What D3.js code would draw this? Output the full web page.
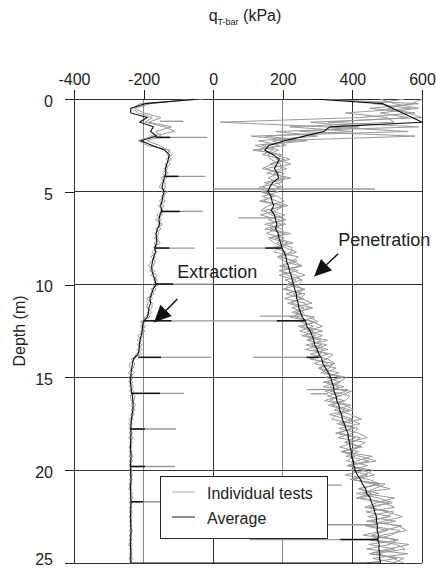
<!DOCTYPE html>
<html>
<head>
<meta charset="utf-8">
<script src="https://cdn.jsdelivr.net/npm/d3@7"></script>
<style>
    body { margin: 0; background: #fff; }
    #chart-area text { font-family: "Liberation Sans", Arial, sans-serif; fill: #222; }
</style>
</head>
<body>
<div id="chart-area"></div>
<script>

// depth of each reading (m)
var depths = [0, 0.25, 0.5, 0.75, 1, 1.25, 1.5, 1.75, 2, 2.25, 2.5, 2.75, 3, 3.25, 3.5, 3.75, 4, 4.25, 4.5, 4.75,
    5, 5.25, 5.5, 5.75, 6, 6.25, 6.5, 6.75, 7, 7.25, 7.5, 7.75, 8, 8.25, 8.5, 8.75, 9, 9.25, 9.5, 9.75,
    10, 10.25, 10.5, 10.75, 11, 11.25, 11.5, 11.75, 12, 12.25, 12.5, 12.75, 13, 13.25, 13.5, 13.75, 14, 14.25, 14.5, 14.75,
    15, 15.25, 15.5, 15.75, 16, 16.25, 16.5, 16.75, 17, 17.25, 17.5, 17.75, 18, 18.25, 18.5, 18.75, 19, 19.25, 19.5, 19.75,
    20, 20.25, 20.5, 20.75, 21, 21.25, 21.5, 21.75, 22, 22.25, 22.5, 22.75, 23, 23.25, 23.5, 23.75, 24, 24.25, 24.5, 24.75, 25];

// penetration resistance (kPa)
var penAvg = [290, 487, 515, 544, 572, 600, 335, 318, 262, 205, 160, 148, 172, 190, 183, 176, 184, 188, 171, 162,
    158, 166, 169, 174, 167, 176, 179, 183, 179, 187, 189, 194, 197, 204, 209, 211, 216, 219, 224, 227,
    231, 234, 239, 240, 244, 246, 251, 256, 266, 269, 279, 284, 289, 292, 299, 304, 312, 315, 323, 331,
    338, 341, 346, 347, 353, 355, 361, 363, 369, 371, 377, 381, 387, 388, 392, 393, 397, 397, 403, 404,
    408, 414, 423, 429, 438, 441, 451, 455, 461, 464, 469, 469, 472, 471, 475, 473, 477, 476, 479, 478, 481];

var penTest1 = [300, 590, 450, 580, 420, 20, 320, 560, 110, 240, 120, 173, 142, 205, 163, 211, 174, 208, 146, 192,
    143, 176, 134, 199, 162, 206, 159, 198, 149, 207, 179, 229, 172, 209, 189, 241, 201, 244, 189, 237,
    211, 264, 229, 260, 214, 261, 226, 291, 251, 289, 249, 294, 269, 327, 289, 329, 282, 330, 303, 361,
    323, 366, 336, 382, 328, 375, 331, 378, 359, 401, 357, 406, 352, 408, 377, 423, 372, 407, 383, 444,
    393, 444, 398, 474, 418, 476, 421, 505, 446, 504, 444, 524, 437, 501, 455, 533, 447, 521, 454, 528, 441];

var penTest2 = [480, 520, 590, 480, 560, 330, 590, 180, 300, 130, 190, 128, 182, 220, 168, 141, 204, 193, 196, 132,
    148, 186, 204, 159, 137, 186, 204, 163, 184, 152, 204, 184, 227, 224, 184, 206, 251, 189, 239, 252,
    216, 209, 254, 205, 264, 276, 241, 236, 291, 254, 314, 254, 309, 282, 329, 279, 327, 350, 303, 326,
    363, 326, 376, 322, 363, 320, 381, 403, 354, 341, 402, 396, 362, 423, 402, 363, 417, 382, 448, 384,
    438, 379, 448, 479, 418, 456, 411, 490, 521, 439, 509, 439, 542, 491, 430, 528, 507, 441, 559, 458, 526];

var penTest3 = [550, 460, 570, 380, 500, 520, 220, 400, 150, 270, 140, 188, 157, 165, 193, 196, 154, 223, 161, 142,
    188, 141, 184, 214, 147, 166, 209, 148, 199, 197, 164, 214, 187, 174, 244, 226, 191, 229, 264, 207,
    236, 259, 209, 255, 284, 226, 261, 221, 286, 314, 269, 314, 274, 312, 264, 344, 327, 290, 353, 321,
    383, 361, 316, 397, 363, 335, 396, 348, 394, 426, 367, 416, 402, 358, 437, 413, 372, 457, 413, 389,
    458, 434, 393, 494, 463, 431, 521, 470, 436, 519, 499, 454, 532, 556, 485, 448, 527, 551, 469, 518, 546];

var penTest4 = [600, 570, 500, 560, 600, 280, 420, 250, 580, 170, 210, 113, 197, 180, 223, 151, 189, 158, 186, 197,
    138, 171, 144, 204, 182, 136, 189, 208, 164, 222, 159, 174, 207, 239, 194, 231, 256, 194, 214, 257,
    246, 199, 264, 250, 224, 286, 236, 276, 301, 244, 289, 264, 329, 267, 314, 309, 277, 345, 333, 311,
    373, 316, 361, 337, 393, 380, 341, 393, 334, 386, 422, 361, 417, 443, 382, 428, 367, 422, 468, 389,
    428, 464, 403, 459, 508, 411, 476, 515, 451, 499, 544, 489, 447, 536, 511, 458, 562, 501, 449, 548, 516];

// extraction resistance (kPa)
var extAvg = [-40, -195, -237, -237, -190, -211, -172, -180, -163, -208, -175, -140, -126, -129, -133, -137, -136, -141, -144, -147,
    -141, -145, -147, -151, -148, -153, -156, -154, -160, -164, -163, -162, -168, -166, -171, -174, -177, -176, -172, -167,
    -165, -173, -177, -182, -180, -185, -186, -189, -201, -203, -204, -207, -210, -212, -213, -216, -229, -232, -234, -236,
    -237, -238, -236, -235, -232, -231, -230, -231, -233, -235, -236, -237, -236, -237, -237, -238, -237, -236, -237, -238,
    -237, -237, -236, -237, -238, -237, -237, -236, -237, -237, -238, -237, -237, -236, -237, -237, -238, -237, -237, -237, -237];

var extTest1 = [-60, -180, -225, -200, -150, -185, -120, -165, -150, -190, -155, -130, -118, -135, -123, -141, -129, -150, -139, -138,
    -146, -139, -155, -141, -151, -146, -166, -146, -165, -155, -169, -152, -172, -160, -180, -166, -172, -183, -161, -172,
    -156, -179, -169, -192, -175, -176, -190, -182, -209, -193, -209, -201, -219, -204, -218, -206, -235, -225, -230, -244,
    -228, -243, -229, -241, -224, -228, -237, -225, -237, -230, -242, -233, -241, -231, -240, -233, -241, -230, -242, -234,
    -240, -232, -240, -234, -243, -231, -240, -232, -241, -232, -241, -233, -240, -231, -241, -234, -243, -233, -240, -232, -239];

var extTest2 = [-30, -210, -232, -215, -175, -195, -140, -110, -175, -215, -190, -125, -133, -120, -138, -131, -146, -133, -148, -155,
    -131, -150, -138, -158, -144, -162, -148, -160, -150, -168, -156, -170, -162, -176, -166, -178, -186, -168, -178, -160,
    -175, -164, -182, -175, -188, -191, -176, -198, -195, -210, -196, -217, -205, -218, -204, -223, -225, -240, -239, -226,
    -243, -232, -241, -228, -238, -235, -222, -236, -227, -242, -232, -242, -232, -243, -232, -242, -234, -241, -231, -242,
    -232, -241, -231, -242, -234, -240, -231, -241, -234, -241, -233, -240, -233, -241, -234, -241, -233, -240, -233, -242, -234];

// short excursions at rod additions (depth, kPa range)
var testSpikeDepth = [1.2, 2.07, 4.17, 4.85, 6.06, 6.4, 8.03, 8.03, 9.97, 11.7, 11.95, 11.95, 13.92, 13.92, 15.66, 15.86, 15.88,
    17.78, 19.8, 20.8, 21.7, 22.94, 23.74];
var testSpikeMin = [-153, -165, -139, 0, -148, 72, -168, 7, -165, 135, -200, 0, -215, 115, 268, -235, 280,
    -237, -237, 250, -237, 330, 105];
var testSpikeMax = [-86, -17, -22, 465, -30, 175, -53, 197, 0, 255, 0, 265, -5, 305, 387, -84, 330,
    -107, -110, 370, -100, 470, 474];

var avgSpikeDepth = [2.07, 4.17, 6.06, 8.03, 8.03, 9.97, 11.95, 11.95, 13.92, 13.92, 15.86, 17.78, 19.8, 21.7, 23.74];
var avgSpikeMin = [-165, -139, -148, -168, 150, -165, -200, 183, -215, 268, -235, -237, -237, -237, 365];
var avgSpikeMax = [-124, -100, -96, -126, 197, -115, -120, 265, -150, 305, -153, -196, -196, -201, 474];

var xTicks = [-400, -200, 0, 200, 400, 600];
var yTicks = [0, 5, 10, 15, 20, 25];
var legendLabels = ["Individual tests", "Average"];


ProfileChart = function(_parentElement){
    this.parentElement = _parentElement;
    this.initVis();
}

ProfileChart.prototype.initVis = function(){
    var vis = this;

    vis.margin = {top: 99, right: 14, bottom: 8, left: 74};
    vis.width = 436 - vis.margin.left - vis.margin.right;
    vis.height = 571 - vis.margin.top - vis.margin.bottom;

    vis.root = d3.select("#" + vis.parentElement).append("svg")
        .attr("width", 436)
        .attr("height", 571);

    vis.svg = vis.root.append("g")
        .attr("transform", "translate(" + vis.margin.left + "," + vis.margin.top + ")");

    vis.x = d3.scaleLinear()
        .domain([-400, 600])
        .range([0, vis.width]);

    vis.y = d3.scaleLinear()
        .domain([0, 25])
        .range([0, vis.height]);

    vis.root.append("defs").append("clipPath")
        .attr("id", "plot-clip")
        .append("rect")
        .attr("width", vis.width)
        .attr("height", vis.height);

    // title with subscript
    var title = vis.root.append("text")
        .attr("x", 245)
        .attr("y", 21)
        .attr("text-anchor", "middle")
        .style("font-size", "16px");
    title.append("tspan").text("q");
    title.append("tspan").attr("dy", 4).style("font-size", "9px").text("T-bar");
    title.append("tspan").attr("dy", -4).text(" (kPa)");

    vis.root.append("text")
        .attr("transform", "translate(25," + (vis.margin.top + vis.height / 2) + ") rotate(-90)")
        .attr("text-anchor", "middle")
        .style("font-size", "16px")
        .text("Depth (m)");

    vis.wrangleData();
}

ProfileChart.prototype.wrangleData = function(){
    var vis = this;

    function zip(values){
        return depths.map(function(d, i){ return {d: d, v: values[i]}; });
    }

    vis.testSeries = [penTest1, penTest2, penTest3, penTest4, extTest1, extTest2].map(zip);

    // average is one continuous record: down on penetration, back up on extraction
    vis.avgSeries = zip(penAvg).concat(zip(extAvg).reverse());

    vis.testSpikes = testSpikeDepth.map(function(d, i){
        return {d: d, v0: testSpikeMin[i], v1: testSpikeMax[i]};
    });
    vis.avgSpikes = avgSpikeDepth.map(function(d, i){
        return {d: d, v0: avgSpikeMin[i], v1: avgSpikeMax[i]};
    });

    vis.updateVis();
}

ProfileChart.prototype.updateVis = function(){
    var vis = this;

    // grid
    vis.svg.append("g").attr("class", "grid")
        .selectAll("line.vgrid")
        .data(xTicks)
        .enter().append("line")
        .attr("x1", d => vis.x(d)).attr("x2", d => vis.x(d))
        .attr("y1", 0).attr("y2", vis.height)
        .attr("stroke", d => (d == -200 || d == 200) ? "#8a8a8a" : "#333")
        .attr("stroke-width", 1)
        .attr("shape-rendering", "crispEdges");

    vis.svg.append("g").attr("class", "grid")
        .selectAll("line.hgrid")
        .data(yTicks)
        .enter().append("line")
        .attr("x1", 0).attr("x2", vis.width)
        .attr("y1", d => vis.y(d)).attr("y2", d => vis.y(d))
        .attr("stroke", "#333")
        .attr("stroke-width", 1)
        .attr("shape-rendering", "crispEdges");

    // axes (plain hyphen for negatives, as in the original)
    var xAxis = d3.axisTop(vis.x).tickValues(xTicks).tickSize(9).tickPadding(5).tickFormat(d => String(d));
    var yAxis = d3.axisLeft(vis.y).tickValues(yTicks).tickSize(9).tickPadding(12).tickFormat(d => String(d));

    var gx = vis.svg.append("g").attr("class", "x-axis axis").call(xAxis);
    var gy = vis.svg.append("g").attr("class", "y-axis axis").call(yAxis);
    [gx, gy].forEach(function(g){
        g.select(".domain").remove();
        g.selectAll("line").attr("stroke", "#222").attr("shape-rendering", "crispEdges");
        g.selectAll("text").style("font-size", "16px").attr("fill", "#222");
    });
    // last label sits at the bottom edge of the page, lift it a touch
    gy.selectAll("text").attr("dy", (d, i) => i == yTicks.length - 1 ? "0.12em" : "0.45em");

    var plot = vis.svg.append("g").attr("clip-path", "url(#plot-clip)");

    var line = d3.line()
        .x(d => vis.x(d.v))
        .y(d => vis.y(d.d));

    plot.selectAll("path.test")
        .data(vis.testSeries)
        .enter().append("path")
        .attr("class", "test")
        .attr("d", line)
        .attr("fill", "none")
        .attr("stroke", "#999")
        .attr("stroke-width", 1);

    plot.selectAll("line.test-spike")
        .data(vis.testSpikes)
        .enter().append("line")
        .attr("class", "test-spike")
        .attr("x1", d => vis.x(d.v0)).attr("x2", d => vis.x(d.v1))
        .attr("y1", d => vis.y(d.d)).attr("y2", d => vis.y(d.d))
        .attr("stroke", "#999")
        .attr("stroke-width", 1.3);

    plot.append("path")
        .datum(vis.avgSeries)
        .attr("class", "avg")
        .attr("d", line)
        .attr("fill", "none")
        .attr("stroke", "#111")
        .attr("stroke-width", 1.1);

    plot.selectAll("line.avg-spike")
        .data(vis.avgSpikes)
        .enter().append("line")
        .attr("class", "avg-spike")
        .attr("x1", d => vis.x(d.v0)).attr("x2", d => vis.x(d.v1))
        .attr("y1", d => vis.y(d.d)).attr("y2", d => vis.y(d.d))
        .attr("stroke", "#111")
        .attr("stroke-width", 1.5);

    // annotations, placed in data units
    var notes = [
        {text: "Penetration", x: 359, d: 7.9, fromX: 359, fromD: 8.34, toX: 290, toD: 9.56},
        {text: "Extraction", x: -103, d: 9.64, fromX: -103, fromD: 10.78, toX: -170, toD: 12.04}
    ];

    notes.forEach(function(n){
        vis.svg.append("text")
            .attr("x", vis.x(n.x))
            .attr("y", vis.y(n.d))
            .style("font-size", "18px")
            .text(n.text);

        var sx = vis.x(n.fromX), sy = vis.y(n.fromD);
        var tx = vis.x(n.toX), ty = vis.y(n.toD);
        var len = Math.sqrt((tx - sx) * (tx - sx) + (ty - sy) * (ty - sy));
        var ux = (tx - sx) / len, uy = (ty - sy) / len;
        var bx = tx - ux * 17, by = ty - uy * 17;

        vis.svg.append("line")
            .attr("x1", sx).attr("y1", sy)
            .attr("x2", bx).attr("y2", by)
            .attr("stroke", "#111")
            .attr("stroke-width", 1.5);

        vis.svg.append("polygon")
            .attr("points", [[tx, ty], [bx - uy * 8, by + ux * 8], [bx + uy * 8, by - ux * 8]].join(" "))
            .attr("fill", "#111");
    });

    // legend
    var legend = vis.svg.append("g")
        .attr("class", "legend")
        .attr("transform", "translate(86,377)");

    legend.append("rect")
        .attr("width", 167)
        .attr("height", 62)
        .attr("fill", "#fff")
        .attr("stroke", "#222")
        .attr("stroke-width", 1)
        .attr("shape-rendering", "crispEdges");

    var items = legend.selectAll("g.item")
        .data(legendLabels)
        .enter().append("g")
        .attr("class", "item")
        .attr("transform", (d, i) => "translate(0," + (16 + i * 25) + ")");

    items.append("line")
        .attr("x1", 12).attr("x2", 35)
        .attr("y1", 0).attr("y2", 0)
        .attr("stroke", (d, i) => i == 0 ? "#aaa" : "#222")
        .attr("stroke-width", 1);

    items.append("text")
        .attr("x", 47)
        .attr("y", 7)
        .style("font-size", "16px")
        .text(d => d);
}

var chart = new ProfileChart("chart-area");

</script>
</body>
</html>
